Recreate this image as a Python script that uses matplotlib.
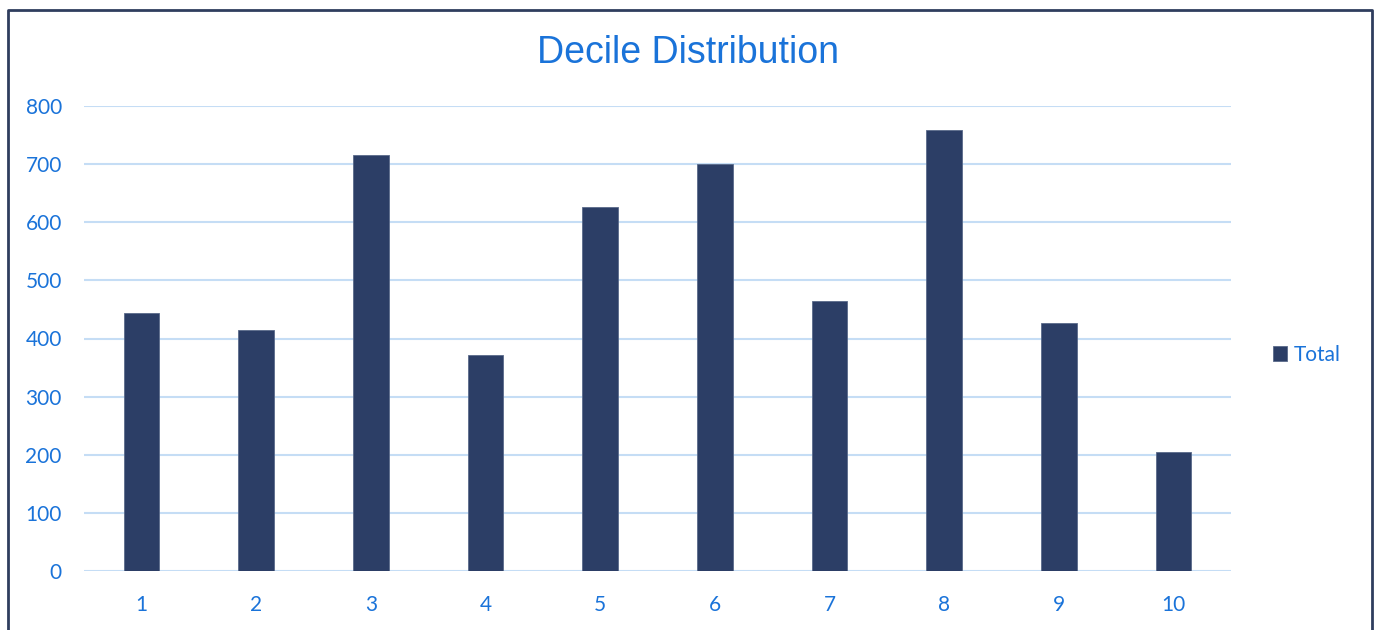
import matplotlib.pyplot as plt

# Decile distribution bar chart

deciles = [1, 2, 3, 4, 5, 6, 7, 8, 9, 10]
totals = [444, 415, 715, 371, 626, 700, 465, 758, 427, 204]
yticks = [0, 100, 200, 300, 400, 500, 600, 700, 800]

BLUE = '#1a73d9'
BAR = '#2c3e66'
GRID = '#c5ddf5'

plt.rcParams['font.family'] = ['Lato', 'DejaVu Sans']

fig = plt.figure(figsize=(13.78, 6.30), dpi=100)
ax = fig.add_axes([84 / 1378, 1 - 571 / 630, 1147 / 1378, 465 / 630])

ax.bar(deciles, totals, width=0.31, color=BAR, edgecolor='#5a6a8a', linewidth=0.6,
       label='Total', zorder=3)

ax.set_xlim(0.5, 10.5)
ax.set_ylim(0, 800)
ax.set_xticks(deciles)
ax.set_yticks(yticks)
ax.tick_params(axis='both', length=0, labelcolor=BLUE, labelsize=15)
ax.tick_params(axis='y', pad=16)
ax.tick_params(axis='x', pad=17)
ax.grid(axis='y', color=GRID, linewidth=1.5, zorder=0)
for s in ax.spines.values():
    s.set_visible(False)

fig.suptitle('Decile Distribution', x=688 / 1378, y=1 - 53 / 630, va='center',
             color=BLUE, fontsize=27, family=['Liberation Sans', 'DejaVu Sans'])

ax.legend(loc='center left', bbox_to_anchor=(1.02, 0.465), frameon=False,
          fontsize=15, labelcolor=BLUE, handlelength=0.7, handleheight=0.7,
          handletextpad=0.3)

# outer frame (bottom edge is cut off in the original)
fig.add_artist(plt.Line2D([8 / 1378, 8 / 1378, 1372 / 1378, 1372 / 1378],
                          [0, 1 - 10 / 630, 1 - 10 / 630, 0],
                          transform=fig.transFigure, color='#2f3d5e', linewidth=2))

fig.savefig('out.png', dpi=100, facecolor='white')
